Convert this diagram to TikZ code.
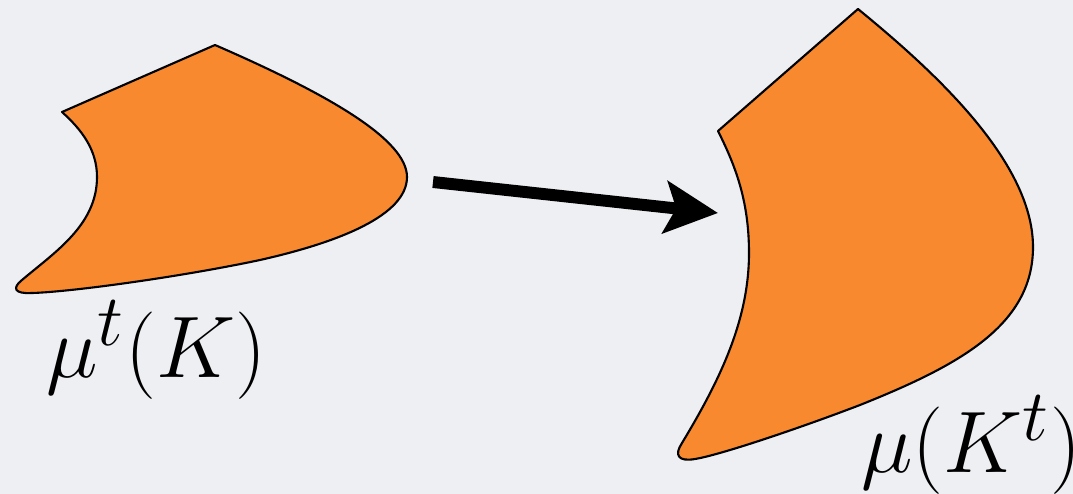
\documentclass[tikz,border=0pt]{standalone}
\usepackage{graphicx}
\usetikzlibrary{arrows.meta}
\definecolor{bgcol}{RGB}{238,239,243}
\definecolor{shapeorange}{RGB}{248,137,47}
\newcommand{\biglabel}[1]{\scalebox{2.0}{\Huge #1}}
\tikzset{
  blob/.style={fill=shapeorange, draw=black, line width=1.2pt, line join=round},
  maplabel/.style={anchor=base west, inner sep=0pt},
  maparrow/.style={line width=6.8pt, -{Stealth[length=10.6mm, width=10.4mm, inset=2.2mm]}}
}
\begin{document}
\begin{tikzpicture}[x=0.02cm, y=-0.02cm]
  \fill[bgcol] (0,0) rectangle (1073,494);
  \useasboundingbox (0,0) rectangle (1073,494);
  % left shape mu^t(K)
  \path[blob] (62,112) -- (215,45)
    .. controls (330,95) and (407,140) .. (407,177)
    .. controls (407,215) and (340,242) .. (260,260)
    .. controls (180,277) and (70,292) .. (32,293)
    .. controls (14,294) and (12,288) .. (22,280)
    .. controls (55,252) and (97,225) .. (97,177)
    .. controls (97,150) and (82,130) .. (62,112) -- cycle;
  % right shape mu(K^t)
  \path[blob] (718,131) -- (858,9)
    .. controls (930,68) and (1033,160) .. (1033,247)
    .. controls (1033,325) and (960,365) .. (860,405)
    .. controls (800,428) and (720,455) .. (695,459)
    .. controls (678,462) and (674,455) .. (682,443)
    .. controls (720,380) and (749,320) .. (749,253)
    .. controls (749,200) and (735,165) .. (718,131) -- cycle;
  % arrow
  \coordinate (arrS) at (433,182);
  \coordinate (arrE) at (718,213);
  \draw[maparrow] (arrS) -- (arrE);
  % labels
  \node[maplabel] (lblL) at (46,377) {\biglabel{$\mu^t(K)$}};
  \node[maplabel] (lblR) at (861,472) {\biglabel{$\mu(K^t)$}};
\end{tikzpicture}
\end{document}
